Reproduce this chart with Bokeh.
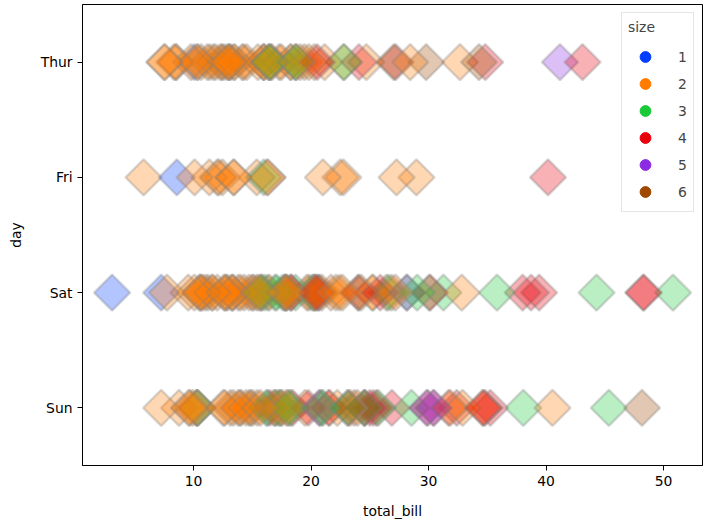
import math
from bokeh.plotting import figure
from bokeh.models import ColumnDataSource, Range1d, FactorRange, FixedTicker, Legend, LegendItem
from bokeh.embed import file_html
from bokeh.resources import INLINE

days = ["Thur", "Fri", "Sat", "Sun"]
size_levels = [1, 2, 3, 4, 5, 6]
palette = ["#023eff", "#ff7c00", "#1ac938", "#e8000b", "#8b2be2", "#9f4800"]
x_ticks = [10, 20, 30, 40, 50]

thur_bill = [27.2, 22.76, 17.29, 19.44, 16.66, 10.07, 32.68, 15.98, 34.83, 13.03, 18.28, 24.71, 21.16,
             10.65, 12.43, 24.08, 11.69, 13.42, 14.26, 15.95, 12.48, 29.8, 8.52, 14.52, 11.38, 22.82,
             19.08, 20.27, 11.17, 12.26, 18.26, 8.51, 10.33, 14.15, 16.0, 13.16, 17.47, 34.3, 41.19,
             27.05, 16.43, 8.35, 18.64, 11.87, 9.78, 7.51, 19.81, 28.44, 15.48, 16.58, 7.56, 10.34,
             43.11, 13.0, 13.51, 18.71, 12.74, 13.0, 16.4, 20.53, 16.47, 18.78]
thur_size = [4, 2, 2, 2, 2, 1, 2, 2, 4, 2, 2, 2, 2,
             2, 2, 4, 2, 2, 2, 2, 2, 6, 2, 2, 2, 3,
             2, 2, 2, 2, 2, 2, 2, 2, 2, 2, 2, 6, 5,
             6, 2, 2, 3, 2, 2, 2, 2, 2, 2, 2, 2, 2,
             4, 2, 2, 3, 2, 2, 2, 4, 3, 2]

fri_bill = [28.97, 22.49, 5.75, 16.32, 22.75, 40.17, 27.28, 12.03, 21.01, 12.46, 11.35, 15.38,
            12.16, 13.42, 8.58, 15.98, 13.42, 16.27, 10.09]
fri_size = [2, 2, 2, 2, 2, 4, 2, 2, 2, 2, 2, 2,
            2, 2, 1, 3, 2, 2, 2]

sat_bill = [20.65, 17.92, 20.29, 15.77, 39.42, 19.82, 17.81, 13.37, 12.69, 21.7, 19.65, 9.55, 18.35,
            15.06, 20.69, 17.78, 24.06, 16.31, 16.93, 18.69, 31.27, 16.04,
            38.01, 26.41, 11.24, 48.27, 20.29, 13.81, 11.02, 18.29, 17.59, 20.08, 16.45, 3.07, 20.23,
            15.01, 12.02, 17.07, 26.86, 25.28, 14.73, 10.51, 17.92,
            44.3, 22.42, 20.92, 15.36, 20.49, 25.21, 18.24, 14.31, 14.0, 7.25,
            10.59, 10.63, 50.81, 15.81,
            26.59, 38.73, 24.27, 12.76, 30.06, 25.89, 48.33, 13.27, 28.17, 12.9, 28.15, 11.59, 7.74, 30.14,
            20.45, 13.28, 22.12, 24.01, 15.69, 11.61, 10.77, 15.53, 10.07, 12.6, 32.83, 35.83, 29.03,
            27.18, 22.67, 17.82]
sat_size = [3, 2, 2, 2, 4, 2, 4, 2, 2, 2, 2, 2, 4,
            2, 4, 2, 3, 3, 3, 3, 3, 3,
            4, 2, 2, 4, 2, 2, 2, 4, 3, 3, 2, 1, 2,
            2, 2, 3, 2, 2, 2, 2, 2,
            3, 2, 2, 2, 2, 2, 2, 2, 2, 1,
            2, 2, 3, 2,
            3, 4, 2, 2, 3, 4, 4, 2, 3, 2, 5, 2, 2, 4,
            4, 2, 2, 4, 3, 2, 2, 2, 2, 2, 2, 3, 3,
            2, 2, 2]

sun_bill = [16.99, 10.34, 21.01, 23.68, 24.59, 25.29, 8.77, 26.88, 15.04, 14.78, 10.27, 35.26, 15.42,
            18.43, 14.83, 21.58, 10.33, 16.29, 16.97,
            17.46, 13.94, 9.68, 30.4, 18.29, 22.23, 32.4, 28.55, 18.04, 12.54, 10.29, 34.81, 9.94,
            25.56, 19.49,
            38.07, 23.95, 25.71, 17.31, 29.93,
            14.07, 13.13, 17.26, 24.55, 19.77, 29.85, 48.17, 25.0, 13.39, 16.49, 21.5, 12.66, 16.21,
            13.81, 17.51, 24.52, 20.76, 31.71,
            7.25, 31.85, 16.82, 32.9, 17.89, 14.48, 9.6, 34.63, 34.65, 23.33, 45.35, 23.17, 40.55,
            20.69, 20.9, 30.46, 18.15, 23.1, 15.69]
sun_size = [2, 3, 3, 2, 4, 4, 2, 4, 2, 2, 2, 4, 2,
            4, 2, 2, 3, 3, 3,
            2, 2, 2, 4, 2, 2, 4, 3, 2, 2, 2, 4, 2,
            4, 2,
            3, 2, 3, 2, 4,
            2, 2, 3, 4, 4, 5, 6, 4, 2, 4, 4, 2, 3,
            2, 2, 3, 2, 4,
            2, 2, 2, 2, 2, 2, 2, 2, 4, 2, 3, 4, 2,
            5, 3, 5, 3, 3, 2]

xs, ys, cs = [], [], []
for day, bills, sizes in [("Thur", thur_bill, thur_size), ("Fri", fri_bill, fri_size),
                          ("Sat", sat_bill, sat_size), ("Sun", sun_bill, sun_size)]:
    for b, s in zip(bills, sizes):
        xs.append(b)
        ys.append(day)
        cs.append(palette[size_levels.index(s)])

src = ColumnDataSource(data=dict(x=xs, y=ys, color=cs))

FONT = "DejaVu Sans"
FS = "13.9px"

p = figure(frame_width=620, frame_height=461,
           x_range=Range1d(0.55, 53.32),
           y_range=FactorRange(factors=list(reversed(days)), range_padding=0),
           output_backend="svg", toolbar_location=None,
           min_border_left=82, min_border_right=5, min_border_top=4, min_border_bottom=40,
           background_fill_color="white", border_fill_color="white")

p.scatter(x="x", y="y", source=src, marker="square", angle=math.pi / 4, size=25.5,
          fill_color="color", fill_alpha=0.3, line_color="gray", line_alpha=0.3, line_width=2.6)

items = []
for lvl, c in zip(size_levels, palette):
    # off-screen point: only the legend swatch is visible
    r = p.scatter(x=[-1000], y=["Thur"], marker="circle", size=12, fill_color=c, line_color=c)
    items.append(LegendItem(label=str(lvl), renderers=[r]))

legend = Legend(items=items, title="size", location="top_right", margin=8,
                padding=6, glyph_width=34, glyph_height=27, label_standoff=16, label_width=9,
                label_height=20, spacing=0, title_standoff=8,
                label_text_font=FONT, label_text_font_size=FS,
                title_text_font=FONT, title_text_font_size=FS, title_text_font_style="normal",
                border_line_color="#cccccc", border_line_width=1,
                background_fill_color="white", background_fill_alpha=0.8)
p.add_layout(legend)

p.xgrid.visible = False
p.ygrid.visible = False
p.outline_line_color = "black"
p.outline_line_width = 1
p.outline_line_alpha = 1

p.xaxis.ticker = FixedTicker(ticks=x_ticks)
p.xaxis.axis_label = "total_bill"
p.yaxis.axis_label = "day"

for ax in [p.xaxis[0], p.yaxis[0]]:
    ax.axis_line_color = "black"
    ax.major_tick_line_color = "black"
    ax.major_tick_out = 5
    ax.major_tick_in = 0
    ax.minor_tick_line_color = None
    ax.major_label_text_font = FONT
    ax.major_label_text_font_size = FS
    ax.major_label_text_color = "black"
    ax.major_label_standoff = 5
    ax.axis_label_text_font = FONT
    ax.axis_label_text_font_size = FS
    ax.axis_label_text_font_style = "normal"
    ax.axis_label_text_color = "black"

p.xaxis[0].axis_label_standoff = 14
p.yaxis[0].axis_label_standoff = 14

open("out.html", "w").write(file_html(p, INLINE))
